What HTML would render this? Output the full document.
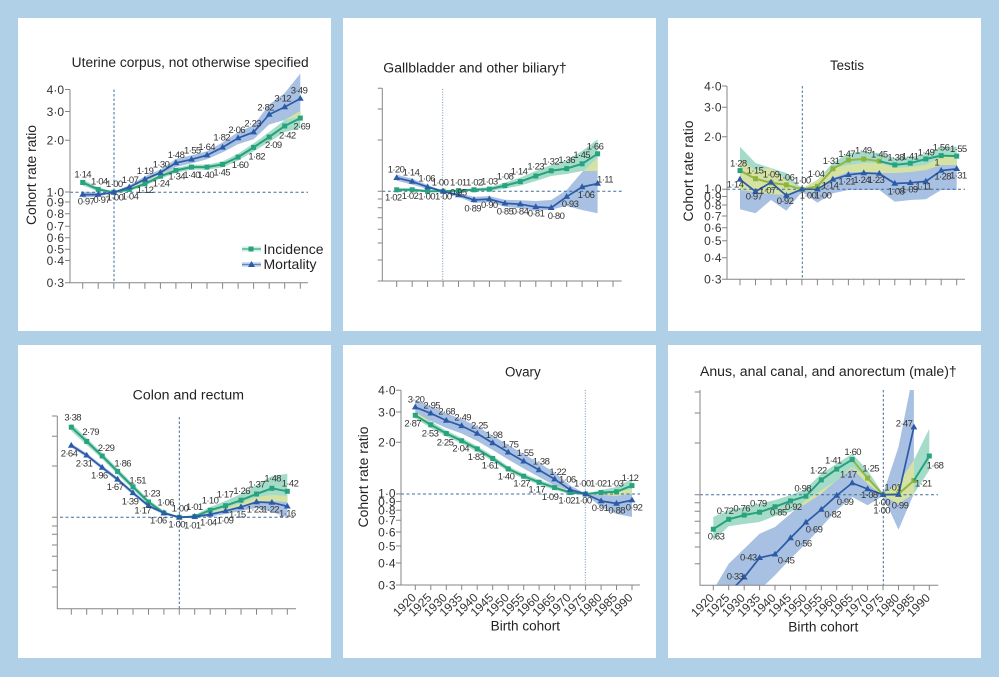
<!DOCTYPE html>
<html><head><meta charset="utf-8">
<style>
html,body{margin:0;padding:0;background:#b0d0e7;}
svg{display:block;}
text{font-family:"Liberation Sans",sans-serif;}
.ax{stroke:#858585;stroke-width:1;fill:none;}
.hd{stroke:#3f6f9c;stroke-width:1;stroke-dasharray:3 2.5;fill:none;}
.vd{stroke:#3f6f9c;stroke-width:1;stroke-dasharray:2.5 2;fill:none;}
.vt{stroke:#6d92b8;stroke-width:1;stroke-dasharray:1 1.6;fill:none;}
.bi{fill:#a5dcc9;}
.bm{fill:#a8c0e1;}
.by{fill:#d5e2a3;}
.inc{stroke:#26a17c;stroke-width:2;fill:none;stroke-linejoin:round;marker-start:url(#ms);marker-mid:url(#ms);marker-end:url(#ms);}
.mor{stroke:#2b5aa8;stroke-width:1.7;fill:none;stroke-linejoin:round;marker-start:url(#mt);marker-mid:url(#mt);marker-end:url(#mt);}
.olv{stroke:#93b641;stroke-width:2;fill:none;stroke-linejoin:round;marker-mid:url(#mo);marker-end:url(#mo);}
.dl{font-size:9.5px;fill:#333;letter-spacing:-0.6px;text-anchor:middle;}
.yl{font-size:12px;fill:#333;text-anchor:end;}
.ti{font-size:13.5px;fill:#222;}
.xl{font-size:12px;fill:#333;text-anchor:end;}
</style></head>
<body>
<svg width="999" height="677" viewBox="0 0 999 677" xmlns="http://www.w3.org/2000/svg">
<defs>
<marker id="ms" markerWidth="7" markerHeight="7" refX="3" refY="3" markerUnits="userSpaceOnUse"><rect x="0.5" y="0.5" width="5" height="5" fill="#27a37e"/></marker>
<marker id="mo" markerWidth="7" markerHeight="7" refX="3" refY="3" markerUnits="userSpaceOnUse"><rect x="0.5" y="0.5" width="5" height="5" fill="#8db53e"/></marker>
<marker id="mt" markerWidth="8" markerHeight="8" refX="4" refY="4.4" markerUnits="userSpaceOnUse"><path d="M4 0.8 L7.4 6.6 L0.6 6.6Z" fill="#2b5aa8"/></marker>
<clipPath id="c1"><polygon points="82.7,191.6 98.2,192.6 113.8,191.8 129.3,185.2 144.9,176.3 160.4,169.6 175.9,158.9 191.5,155.4 207.0,151.2 222.6,142.4 238.1,132.1 253.6,125.2 269.2,104.5 284.7,93 300.3,73.6 300.3,116.6 284.7,120 269.2,124.5 253.6,139.2 238.1,144.1 222.6,152.4 207.0,159.2 191.5,163.4 175.9,166.9 160.4,175.6 144.9,182.3 129.3,189.2 113.8,192.8 98.2,196.6 82.7,197.6"/></clipPath>
<clipPath id="c2"><polygon points="396.7,174.8 412.2,178.6 427.6,185 443.1,190.8 458.5,193.1 474.0,196.9 489.4,196.1 504.9,199.8 520.3,200.2 535.8,201 551.2,200 566.7,190 582.1,172 597.6,158 597.6,213.3 582.1,210 566.7,206 551.2,209.5 535.8,210.9 520.3,208.2 504.9,206.8 489.4,202.1 474.0,202.9 458.5,197.1 443.1,191.8 427.6,189 412.2,184.6 396.7,180.8"/></clipPath>
<clipPath id="c3"><polygon points="740,160 755.5,170 771.0,168 786.4,180 801.9,188.7 817.4,180 832.9,168 848.4,165 863.8,163 879.3,163 894.8,168 910.3,167 925.8,165 941.2,157 956.7,155 956.7,190 941.2,190 925.8,199.3 910.3,200 894.8,201.7 879.3,190 863.8,190 848.4,190 832.9,193.3 817.4,202.7 801.9,191.7 786.4,210.7 771.0,200 755.5,213.3 740,209.3"/></clipPath>
<clipPath id="c4"><polygon points="71.3,443.5 86.7,453.3 102.2,465.5 117.6,477.4 133.0,491 148.5,504 163.9,511.5 179.3,517 194.7,515.6 210.2,512.5 225.6,508 241.0,503 256.5,497 271.9,495 287.3,496 287.3,517 271.9,512 256.5,508 241.0,511 225.6,514 210.2,516.5 194.7,517.6 179.3,517.6 163.9,514.5 148.5,507.5 133.0,495 117.6,481.4 102.2,469.5 86.7,457.3 71.3,447.5"/></clipPath>
<clipPath id="c5"><polygon points="415.3,400 430.8,406 446.3,413.5 461.7,419 477.2,426.5 492.7,435.5 508.2,445 523.7,454 539.1,463 554.6,472.5 570.1,485.5 585.6,493.5 601.1,494.5 616.5,492 632.0,488.7 632.0,517 616.5,514 601.1,507 585.6,494.5 570.1,493 554.6,485.5 539.1,477 523.7,468.5 508.2,459.5 492.7,450 477.2,441 461.7,433.5 446.3,428 430.8,421 415.3,418"/></clipPath>
<clipPath id="c6"><polygon points="713.3,590 728.7,563.7 744.2,548.7 759.6,533.7 775.0,527 790.5,513.7 805.9,500.3 821.3,490.3 836.7,480.3 852.2,467 867.6,477 883.0,494 898.5,447 913.9,370 913.9,493.7 898.5,529.7 883.0,496 867.6,505.3 852.2,497 836.7,510.3 821.3,527 805.9,543.7 790.5,558.7 775.0,575.3 759.6,590 744.2,610 728.7,620 713.3,630"/></clipPath>
<clipPath id="p6"><rect x="700" y="390" width="238.3" height="195.3"/></clipPath>
</defs>

<rect width="999" height="677" fill="#b0d0e7"/>
<rect x="18" y="18" width="313" height="313" fill="#fff"/>
<rect x="343" y="18" width="313" height="313" fill="#fff"/>
<rect x="668" y="18" width="313" height="313" fill="#fff"/>
<rect x="18" y="345" width="313" height="313" fill="#fff"/>
<rect x="343" y="345" width="313" height="313" fill="#fff"/>
<rect x="668" y="345" width="313" height="313" fill="#fff"/>

<!-- ================= PANEL 1 ================= -->
<g>
<text class="ti" x="71.7" y="67" textLength="237" lengthAdjust="spacingAndGlyphs">Uterine corpus, not otherwise specified</text>
<text class="ti" text-anchor="middle" transform="translate(36,175) rotate(-90)" textLength="100" lengthAdjust="spacingAndGlyphs">Cohort rate ratio</text>
<polygon class="bm" points="82.7,191.6 98.2,192.6 113.8,191.8 129.3,185.2 144.9,176.3 160.4,169.6 175.9,158.9 191.5,155.4 207.0,151.2 222.6,142.4 238.1,132.1 253.6,125.2 269.2,104.5 284.7,93 300.3,73.6 300.3,116.6 284.7,120 269.2,124.5 253.6,139.2 238.1,144.1 222.6,152.4 207.0,159.2 191.5,163.4 175.9,166.9 160.4,175.6 144.9,182.3 129.3,189.2 113.8,192.8 98.2,196.6 82.7,197.6"/>
<polygon class="bi" points="82.7,179.5 98.2,187.4 113.8,191.8 129.3,187.4 144.9,181.8 160.4,173.7 175.9,167.9 191.5,164.6 207.0,164.6 222.6,161.4 238.1,153.6 253.6,143.4 269.2,132 284.7,120 300.3,111 300.3,128 284.7,132 269.2,142 253.6,151.4 238.1,160.6 222.6,167.4 207.0,169.6 191.5,169.6 175.9,172.9 160.4,178.7 144.9,185.8 129.3,191.4 113.8,192.8 98.2,191.4 82.7,185.5"/>
<polygon class="by" clip-path="url(#c1)" points="82.7,179.5 98.2,187.4 113.8,191.8 129.3,187.4 144.9,181.8 160.4,173.7 175.9,167.9 191.5,164.6 207.0,164.6 222.6,161.4 238.1,153.6 253.6,143.4 269.2,132 284.7,120 300.3,111 300.3,128 284.7,132 269.2,142 253.6,151.4 238.1,160.6 222.6,167.4 207.0,169.6 191.5,169.6 175.9,172.9 160.4,178.7 144.9,185.8 129.3,191.4 113.8,192.8 98.2,191.4 82.7,185.5"/>
<path class="vd" d="M114 89.5V282.7"/>
<path class="hd" d="M70 192.3H308"/>
<path class="ax" d="M70 89.5V282.7H308"/>
<path class="ax" d="M65 89.5h5M65 111.5h5M65 140.3h5M65 192h5M65 202h5M65 213.8h5M65 226.3h5M65 237.8h5M65 249.3h5M65 260.5h5M65 282.7h5"/>
<path class="ax" d="M82.7 282.7v6M98.2 282.7v6M113.8 282.7v6M129.3 282.7v6M144.9 282.7v6M160.4 282.7v6M175.9 282.7v6M191.5 282.7v6M207 282.7v6M222.6 282.7v6M238.1 282.7v6M253.6 282.7v6M269.2 282.7v6M284.7 282.7v6M300.3 282.7v6"/>
<g class="yl">
<text x="64" y="93.8">4·0</text><text x="64" y="115.8">3·0</text><text x="64" y="144.6">2·0</text><text x="64" y="196.3">1·0</text><text x="64" y="206.3">0·9</text><text x="64" y="218.1">0·8</text><text x="64" y="230.6">0·7</text><text x="64" y="242.1">0·6</text><text x="64" y="253.6">0·5</text><text x="64" y="264.8">0·4</text><text x="64" y="287">0·3</text>
</g>
<polyline class="inc" points="82.7,182.5 98.2,189.4 113.8,192.3 129.3,189.4 144.9,183.8 160.4,176.2 175.9,170.4 191.5,167.1 207.0,167.1 222.6,164.4 238.1,157.1 253.6,147.4 269.2,137.0 284.7,126.0 300.3,118.1"/>
<polyline class="mor" points="82.7,194.6 98.2,194.6 113.8,192.3 129.3,187.2 144.9,179.3 160.4,172.6 175.9,162.9 191.5,159.4 207.0,155.2 222.6,147.4 238.1,138.1 253.6,132.2 269.2,114.5 284.7,107.0 300.3,98.6"/>
<g class="dl">
<text x="82.7" y="177.3">1·14</text><text x="99.3" y="184.7">1·04</text><text x="114.3" y="187">1·00</text><text x="130" y="183">1·07</text><text x="145" y="174">1·19</text><text x="161" y="167.3">1·30</text><text x="176" y="158">1·48</text><text x="192.3" y="153.7">1·55</text><text x="206.7" y="150">1·64</text><text x="221.7" y="140.3">1·82</text><text x="236.7" y="133">2·06</text><text x="252.7" y="126.3">2·23</text><text x="265.7" y="110.3">2·82</text><text x="282.7" y="101.7">3·12</text><text x="299" y="93.7">3·49</text>
<text x="86" y="204.7">0·97</text><text x="101.7" y="203">0·97</text><text x="115" y="200.3">1·00</text><text x="130" y="199.7">1·04</text><text x="145" y="193">1·12</text><text x="161" y="186.3">1·24</text><text x="176.7" y="179.7">1·34</text><text x="191.7" y="178">1·40</text><text x="205.7" y="178">1·40</text><text x="221.7" y="175.7">1·45</text><text x="240" y="168">1·60</text><text x="256.7" y="159.3">1·82</text><text x="273.3" y="148">2·09</text><text x="287.3" y="138.7">2·42</text><text x="301.7" y="129.7">2·69</text>
</g>
<!-- legend -->
<rect x="242" y="246.5" width="19" height="5" fill="#d2efe5"/>
<rect x="242" y="262" width="19" height="5" fill="#d2def0"/>
<path d="M242 249H261" stroke="#4fb595" stroke-width="1.6"/>
<rect x="248.5" y="246.5" width="5" height="5" fill="#27a37e"/>
<path d="M242 264.5H261" stroke="#5f86c0" stroke-width="1.6"/>
<path d="M251.5 261 L255 267 L248 267Z" fill="#2b5aa8"/>
<text x="263.5" y="254" font-size="14" fill="#222" textLength="60" lengthAdjust="spacingAndGlyphs">Incidence</text>
<text x="263.5" y="269" font-size="14" fill="#222" textLength="53" lengthAdjust="spacingAndGlyphs">Mortality</text>
</g>

<!-- ================= PANEL 2 ================= -->
<g>
<text class="ti" x="383.3" y="72.5" textLength="183.4" lengthAdjust="spacingAndGlyphs">Gallbladder and other biliary†</text>
<polygon class="bm" points="396.7,174.8 412.2,178.6 427.6,185 443.1,190.8 458.5,193.1 474.0,196.9 489.4,196.1 504.9,199.8 520.3,200.2 535.8,201 551.2,200 566.7,190 582.1,172 597.6,158 597.6,213.3 582.1,210 566.7,206 551.2,209.5 535.8,210.9 520.3,208.2 504.9,206.8 489.4,202.1 474.0,202.9 458.5,197.1 443.1,191.8 427.6,189 412.2,184.6 396.7,180.8"/>
<polygon class="bi" points="396.7,188.3 412.2,188.3 427.6,190.3 443.1,191 458.5,189.6 474.0,188.3 489.4,187.1 504.9,182.6 520.3,177.6 535.8,171 551.2,165 566.7,160 582.1,151 597.6,139.3 597.6,171 582.1,171 566.7,174 551.2,176 535.8,181 520.3,185.6 504.9,188.6 489.4,191.1 474.0,191.3 458.5,191.6 443.1,191.6 427.6,192.3 412.2,191.3 396.7,191.3"/>
<polygon class="by" clip-path="url(#c2)" points="396.7,188.3 412.2,188.3 427.6,190.3 443.1,191 458.5,189.6 474.0,188.3 489.4,187.1 504.9,182.6 520.3,177.6 535.8,171 551.2,165 566.7,160 582.1,151 597.6,139.3 597.6,171 582.1,171 566.7,174 551.2,176 535.8,181 520.3,185.6 504.9,188.6 489.4,191.1 474.0,191.3 458.5,191.6 443.1,191.6 427.6,192.3 412.2,191.3 396.7,191.3"/>
<path class="vt" d="M442.7 89V281"/>
<path class="hd" d="M382.3 191.3H621.7"/>
<path class="ax" d="M382.3 88.3V281H621.7"/>
<path class="ax" d="M377.7 88.3h4.6M377.7 109h4.6M377.7 140h4.6M377.7 191.3h4.6M377.7 199h4.6M377.7 207.7h4.6M377.7 217.7h4.6M377.7 229.3h4.6M377.7 243h4.6M377.7 260h4.6M377.7 281h4.6"/>
<path class="ax" d="M396.7 281v6M412.2 281v6M427.6 281v6M443.1 281v6M458.5 281v6M474 281v6M489.4 281v6M504.9 281v6M520.3 281v6M535.8 281v6M551.2 281v6M566.7 281v6M582.1 281v6M597.6 281v6M613 281v6"/>
<polyline class="inc" points="396.7,189.8 412.2,189.8 427.6,191.3 443.1,191.3 458.5,190.6 474.0,189.8 489.4,189.1 504.9,185.6 520.3,181.6 535.8,176.0 551.2,170.8 566.7,168.6 582.1,163.8 597.6,153.8"/>
<polyline class="mor" points="396.7,177.8 412.2,181.6 427.6,187.0 443.1,191.3 458.5,195.1 474.0,199.9 489.4,199.1 504.9,203.3 520.3,204.2 535.8,206.9 551.2,207.8 566.7,196.7 582.1,187.0 597.6,183.6"/>
<g class="dl">
<text x="396" y="172.3">1·20</text><text x="411" y="175.3">1·14</text><text x="426.7" y="181.3">1·06</text><text x="440" y="185.7">1·00</text><text x="458.3" y="185.7">1·01</text><text x="474.3" y="185.7">1·02</text><text x="489.3" y="184.7">1·03</text><text x="505" y="179.7">1·08</text><text x="519" y="174.7">1·14</text><text x="535.7" y="169.7">1·23</text><text x="550.7" y="164.7">1·32</text><text x="566.7" y="163">1·36</text><text x="581.7" y="158">1·45</text><text x="595" y="149.7">1·66</text><text x="605" y="182.3">1·11</text>
<text x="393.3" y="200.3">1·02</text><text x="410" y="199">1·02</text><text x="426.7" y="199.7">1·00</text><text x="443.3" y="199.7">1·00</text><text x="458.3" y="195.7">0·95</text><text x="472.7" y="211.3">0·89</text><text x="489.3" y="208">0·90</text><text x="505" y="214.7">0·85</text><text x="520" y="214.7">0·84</text><text x="536" y="216.3">0·81</text><text x="556" y="219">0·80</text><text x="570" y="207">0·93</text><text x="586" y="198">1·06</text>
</g>
</g>

<!-- ================= PANEL 3 ================= -->
<g>
<text class="ti" x="830" y="70" textLength="34" lengthAdjust="spacingAndGlyphs">Testis</text>
<text class="ti" text-anchor="middle" transform="translate(693,171) rotate(-90)" textLength="101" lengthAdjust="spacingAndGlyphs">Cohort rate ratio</text>
<polygon class="bm" points="740,160 755.5,170 771.0,168 786.4,180 801.9,188.7 817.4,180 832.9,168 848.4,165 863.8,163 879.3,163 894.8,168 910.3,167 925.8,165 941.2,157 956.7,155 956.7,190 941.2,190 925.8,199.3 910.3,200 894.8,201.7 879.3,190 863.8,190 848.4,190 832.9,193.3 817.4,202.7 801.9,191.7 786.4,210.7 771.0,200 755.5,213.3 740,209.3"/>
<polygon class="bi" points="740,146.7 755.5,163 771.0,168 786.4,173 801.9,188.7 817.4,180 832.9,163 848.4,153 863.8,151.7 879.3,153 894.8,158 910.3,156.7 925.8,154 941.2,146.7 956.7,146.7 956.7,165 941.2,165 925.8,170 910.3,172 894.8,173 879.3,173 863.8,172 848.4,172 832.9,178 817.4,192 801.9,190 786.4,195 771.0,194 755.5,192 740,190"/>
<polygon class="by" clip-path="url(#c3)" points="740,146.7 755.5,163 771.0,168 786.4,173 801.9,188.7 817.4,180 832.9,163 848.4,153 863.8,151.7 879.3,153 894.8,158 910.3,156.7 925.8,154 941.2,146.7 956.7,146.7 956.7,165 941.2,165 925.8,170 910.3,172 894.8,173 879.3,173 863.8,172 848.4,172 832.9,178 817.4,192 801.9,190 786.4,195 771.0,194 755.5,192 740,190"/>
<path class="vd" d="M802.3 86V279.3" style="stroke:#3d7696"/>
<path class="hd" d="M727 189.3H965"/>
<path class="ax" d="M727 86V279.3H965"/>
<path class="ax" d="M722 86h5M722 107.3h5M722 136.7h5M722 189.3h5M722 196.5h5M722 205h5M722 216h5M722 227.7h5M722 240.7h5M722 257.7h5M722 279.3h5"/>
<path class="ax" d="M740 279.3v6M755.5 279.3v6M771 279.3v6M786.4 279.3v6M801.9 279.3v6M817.4 279.3v6M832.9 279.3v6M848.4 279.3v6M863.8 279.3v6M879.3 279.3v6M894.8 279.3v6M910.3 279.3v6M925.8 279.3v6M941.2 279.3v6M956.7 279.3v6"/>
<g class="yl">
<text x="721.5" y="90.3">4·0</text><text x="721.5" y="111.6">3·0</text><text x="721.5" y="141">2·0</text><text x="721.5" y="193">1·0</text><text x="721.5" y="201.1">0·9</text><text x="721.5" y="209.3">0·8</text><text x="721.5" y="220.3">0·7</text><text x="721.5" y="232">0·6</text><text x="721.5" y="245">0·5</text><text x="721.5" y="262">0·4</text><text x="721.5" y="283.6">0·3</text>
</g>
<polyline class="olv" points="740,170.6 755.5,178.7 771.0,182.8 786.4,184.9 801.9,189.3 817.4,186.3 832.9,168.8 848.4,160.1 863.8,159.0 879.3,161.1"/>
<polyline class="inc" style="marker-start:none" points="879.3,161.1 894.8,164.9 910.3,163.2 925.8,159.0 941.2,155.6 956.7,156.1"/>
<rect x="737.5" y="168.1" width="5" height="5" fill="#27a37e"/>
<polyline class="mor" points="740,179.4 755.5,191.6 771.0,182.3 786.4,195.6 801.9,189.3 817.4,189.3 832.9,179.4 848.4,174.8 863.8,173.0 879.3,173.6 894.8,183.5 910.3,182.8 925.8,181.4 941.2,170.6 956.7,168.8"/>
<g class="dl">
<text x="738.3" y="166.3">1·28</text><text x="755" y="173.7">1·15</text><text x="771" y="177.7">1·09</text><text x="786" y="180.3">1·06</text><text x="802.3" y="183.7">1·00</text><text x="816" y="177">1·04</text><text x="831" y="164">1·31</text><text x="846.7" y="157">1·47</text><text x="863.3" y="153.7">1·49</text><text x="879.3" y="157.3">1·45</text><text x="895.7" y="160.3">1·38</text><text x="910" y="159.7">1·41</text><text x="926" y="155.3">1·49</text><text x="941" y="150.3">1·56</text><text x="958.3" y="152">1·55</text><text x="936.7" y="165.3">1</text>
<text x="735" y="187.3">1·14</text><text x="754" y="199.7">0·97</text><text x="767.3" y="193.7">1·07</text><text x="785" y="204">0·92</text><text x="808" y="198.5">1·00</text><text x="823" y="198.5">1·00</text><text x="830" y="188.7">1·14</text><text x="846.7" y="184.7">1·21</text><text x="861.7" y="183">1·24</text><text x="876" y="183">1·23</text><text x="896" y="194.7">1·08</text><text x="909.3" y="192.3">1·09</text><text x="923.3" y="189.7">1·11</text><text x="942.7" y="179.7">1·28</text><text x="958.3" y="178.7">1·31</text>
</g>
</g>

<!-- ================= PANEL 4 ================= -->
<g>
<text class="ti" x="132.7" y="399.7" textLength="111.3" lengthAdjust="spacingAndGlyphs">Colon and rectum</text>
<polygon class="bm" points="71.3,443.5 86.7,453.3 102.2,465.5 117.6,477.4 133.0,491 148.5,504 163.9,511.5 179.3,517 194.7,515.6 210.2,512.5 225.6,508 241.0,503 256.5,497 271.9,495 287.3,496 287.3,517 271.9,512 256.5,508 241.0,511 225.6,514 210.2,516.5 194.7,517.6 179.3,517.6 163.9,514.5 148.5,507.5 133.0,495 117.6,481.4 102.2,469.5 86.7,457.3 71.3,447.5"/>
<polygon class="bi" points="71.3,423.5 86.7,438 102.2,453 117.6,468.5 133.0,484 148.5,499.5 163.9,511 179.3,517 194.7,515 210.2,507 225.6,501 241.0,494 256.5,485 271.9,476 287.3,473.7 287.3,502 271.9,501 256.5,503 241.0,506 225.6,510 210.2,513 194.7,518 179.3,517.6 163.9,515 148.5,504.5 133.0,489.5 117.6,474.5 102.2,459 86.7,445 71.3,431"/>
<polygon class="by" clip-path="url(#c4)" points="71.3,423.5 86.7,438 102.2,453 117.6,468.5 133.0,484 148.5,499.5 163.9,511 179.3,517 194.7,515 210.2,507 225.6,501 241.0,494 256.5,485 271.9,476 287.3,473.7 287.3,502 271.9,501 256.5,503 241.0,506 225.6,510 210.2,513 194.7,518 179.3,517.6 163.9,515 148.5,504.5 133.0,489.5 117.6,474.5 102.2,459 86.7,445 71.3,431"/>
<path class="vd" d="M179.3 417V608.7"/>
<path class="hd" d="M60 517.3H296"/>
<path class="ax" d="M57.3 416V608.7H296"/>
<path class="ax" d="M52 416h5.3M52 436.3h5.3M52 466h5.3M52 517.3h5.3M52 526h5.3M52 534.3h5.3M52 545h5.3M52 556.3h5.3M52 570.3h5.3M52 587h5.3"/>
<path class="ax" d="M71.3 608.7v6M86.7 608.7v6M102.2 608.7v6M117.6 608.7v6M133 608.7v6M148.5 608.7v6M163.9 608.7v6M179.3 608.7v6M194.7 608.7v6M210.2 608.7v6M225.6 608.7v6M241 608.7v6M256.5 608.7v6M271.9 608.7v6M287.3 608.7v6"/>
<polyline class="inc" points="71.3,427.2 86.7,441.4 102.2,456.0 117.6,471.4 133.0,486.8 148.5,502.0 163.9,513.0 179.3,517.3 194.7,516.6 210.2,510.2 225.6,505.7 241.0,500.2 256.5,494.0 271.9,488.3 287.3,491.3"/>
<polyline class="mor" points="71.3,445.5 86.7,455.3 102.2,467.5 117.6,479.4 133.0,492.9 148.5,505.7 163.9,513.0 179.3,517.3 194.7,516.6 210.2,514.4 225.6,510.9 241.0,507.0 256.5,502.0 271.9,502.6 287.3,506.3"/>
<g class="dl">
<text x="72.7" y="420.7">3·38</text><text x="90.7" y="435">2·79</text><text x="106" y="451">2·29</text><text x="122.7" y="466.7">1·86</text><text x="137.7" y="483.3">1·51</text><text x="151.7" y="496.7">1·23</text><text x="165.7" y="505.7">1·06</text><text x="180" y="511.7">1·00</text><text x="194.3" y="510">1·01</text><text x="210" y="503.3">1·10</text><text x="225" y="497.7">1·17</text><text x="241.7" y="494">1·26</text><text x="256.7" y="487.3">1·37</text><text x="272.7" y="481.7">1·48</text><text x="290" y="486.7">1·42</text>
<text x="69" y="456.7">2·64</text><text x="84" y="466.7">2·31</text><text x="99.3" y="478.3">1·96</text><text x="115" y="490">1·67</text><text x="130" y="504.3">1·39</text><text x="142.7" y="513.7">1·17</text><text x="158.3" y="523.7">1·06</text><text x="176.7" y="527.7">1·00</text><text x="192.3" y="528.3">1·01</text><text x="208.3" y="525.7">1·04</text><text x="225" y="523.3">1·09</text><text x="237.3" y="517.3">1·15</text><text x="255" y="512.7">1·23</text><text x="270.7" y="512.7">1·22</text><text x="287.3" y="516.7">1·16</text>
</g>
</g>

<!-- ================= PANEL 5 ================= -->
<g>
<text class="ti" x="505" y="376.3" textLength="35.7" lengthAdjust="spacingAndGlyphs">Ovary</text>
<text class="ti" text-anchor="middle" transform="translate(368,477) rotate(-90)" textLength="101" lengthAdjust="spacingAndGlyphs">Cohort rate ratio</text>
<polygon class="bm" points="415.3,400 430.8,406 446.3,413.5 461.7,419 477.2,426.5 492.7,435.5 508.2,445 523.7,454 539.1,463 554.6,472.5 570.1,485.5 585.6,493.5 601.1,494.5 616.5,492 632.0,488.7 632.0,517 616.5,514 601.1,507 585.6,494.5 570.1,493 554.6,485.5 539.1,477 523.7,468.5 508.2,459.5 492.7,450 477.2,441 461.7,433.5 446.3,428 430.8,421 415.3,418"/>
<polygon class="bi" points="415.3,412 430.8,421.5 446.3,430.5 461.7,438 477.2,446 492.7,455.7 508.2,466.2 523.7,473.6 539.1,479.8 554.6,485.3 570.1,490.8 585.6,493.6 601.1,490 616.5,487 632.0,478.7 632.0,493.7 616.5,496 601.1,495 585.6,494.4 570.1,494.2 554.6,489.9 539.1,484.8 523.7,478.8 508.2,471.6 492.7,461.3 477.2,451.8 461.7,443.6 446.3,436.5 430.8,428 415.3,418.5"/>
<polygon class="by" clip-path="url(#c5)" points="415.3,412 430.8,421.5 446.3,430.5 461.7,438 477.2,446 492.7,455.7 508.2,466.2 523.7,473.6 539.1,479.8 554.6,485.3 570.1,490.8 585.6,493.6 601.1,490 616.5,487 632.0,478.7 632.0,493.7 616.5,496 601.1,495 585.6,494.4 570.1,494.2 554.6,489.9 539.1,484.8 523.7,478.8 508.2,471.6 492.7,461.3 477.2,451.8 461.7,443.6 446.3,436.5 430.8,428 415.3,418.5"/>
<path class="vt" d="M585.3 390V585"/>
<path class="hd" d="M401 494H640"/>
<path class="ax" d="M401 390.3V585H640"/>
<path class="ax" d="M396 390.3h5M396 412h5M396 442.3h5M396 494h5M396 501.5h5M396 510.3h5M396 520.3h5M396 532h5M396 546h5M396 563h5M396 585h5"/>
<path class="ax" d="M415.3 585v5M430.8 585v5M446.3 585v5M461.7 585v5M477.2 585v5M492.7 585v5M508.2 585v5M523.7 585v5M539.1 585v5M554.6 585v5M570.1 585v5M585.6 585v5M601.1 585v5M616.5 585v5M632 585v5"/>
<g class="yl">
<text x="395.5" y="394.6">4·0</text><text x="395.5" y="416.3">3·0</text><text x="395.5" y="446.6">2·0</text><text x="395.5" y="497.3">1·0</text><text x="395.5" y="505.8">0·9</text><text x="395.5" y="514.6">0·8</text><text x="395.5" y="524.6">0·7</text><text x="395.5" y="536.3">0·6</text><text x="395.5" y="550.3">0·5</text><text x="395.5" y="567.3">0·4</text><text x="395.5" y="589.3">0·3</text>
</g>
<polyline class="inc" points="415.3,415.3 430.8,424.8 446.3,433.5 461.7,440.8 477.2,448.9 492.7,458.5 508.2,468.9 523.7,476.2 539.1,482.3 554.6,487.6 570.1,492.5 585.6,494 601.1,492.5 616.5,491.8 632.0,485.6"/>
<polyline class="mor" points="415.3,407.2 430.8,413.3 446.3,420.5 461.7,425.9 477.2,433.5 492.7,443.0 508.2,452.3 523.7,461.3 539.1,470.0 554.6,479.2 570.1,489.7 585.6,494 601.1,501.0 616.5,503.5 632.0,500.2"/>
<g class="dl">
<text x="416" y="402.3">3·20</text><text x="431.7" y="408.3">2·95</text><text x="446.7" y="414.7">2·68</text><text x="462.7" y="420.7">2·49</text><text x="479.3" y="428.3">2·25</text><text x="494" y="438">1·98</text><text x="510" y="447.3">1·75</text><text x="525" y="456">1·55</text><text x="541" y="464.3">1·38</text><text x="557.7" y="475">1·22</text><text x="567.3" y="482.3">1·06</text><text x="582.3" y="486.7">1·00</text><text x="598.3" y="486.7">1·02</text><text x="615" y="486.7">1·03</text><text x="630" y="481">1·12</text>
<text x="412.7" y="426.7">2·87</text><text x="430" y="436.7">2·53</text><text x="445" y="445.3">2·25</text><text x="460.7" y="451.7">2·04</text><text x="476" y="460">1·83</text><text x="490" y="468.3">1·61</text><text x="506" y="479.3">1·40</text><text x="521.7" y="486.7">1·27</text><text x="536.7" y="492.3">1·17</text><text x="550" y="500">1·09</text><text x="566.7" y="503.3">1·02</text><text x="583.3" y="503.3">1·00</text><text x="600" y="511">0·91</text><text x="616.7" y="513.3">0·88</text><text x="634" y="510.7">0·92</text>
</g>
<g class="xl">
<text transform="translate(416.8,598.3) rotate(-45)">1920</text><text transform="translate(432.3,598.3) rotate(-45)">1925</text><text transform="translate(447.8,598.3) rotate(-45)">1930</text><text transform="translate(463.2,598.3) rotate(-45)">1935</text><text transform="translate(478.7,598.3) rotate(-45)">1940</text><text transform="translate(494.2,598.3) rotate(-45)">1945</text><text transform="translate(509.7,598.3) rotate(-45)">1950</text><text transform="translate(525.2,598.3) rotate(-45)">1955</text><text transform="translate(540.6,598.3) rotate(-45)">1960</text><text transform="translate(556.1,598.3) rotate(-45)">1965</text><text transform="translate(571.6,598.3) rotate(-45)">1970</text><text transform="translate(587.1,598.3) rotate(-45)">1975</text><text transform="translate(602.6,598.3) rotate(-45)">1980</text><text transform="translate(618,598.3) rotate(-45)">1985</text><text transform="translate(633.5,598.3) rotate(-45)">1990</text>
</g>
<text class="ti" x="490.7" y="630.3" textLength="69.3" lengthAdjust="spacingAndGlyphs">Birth cohort</text>
</g>

<!-- ================= PANEL 6 ================= -->
<g>
<text class="ti" x="700" y="376" textLength="256.7" lengthAdjust="spacingAndGlyphs">Anus, anal canal, and anorectum (male)†</text>
<g clip-path="url(#p6)">
<polygon class="bm" points="713.3,590 728.7,563.7 744.2,548.7 759.6,533.7 775.0,527 790.5,513.7 805.9,500.3 821.3,490.3 836.7,480.3 852.2,467 867.6,477 883.0,494 898.5,447 913.9,370 913.9,493.7 898.5,529.7 883.0,496 867.6,505.3 852.2,497 836.7,510.3 821.3,527 805.9,543.7 790.5,558.7 775.0,575.3 759.6,590 744.2,610 728.7,620 713.3,630"/>
<polygon class="bi" points="713.3,517 728.7,510.3 744.2,507 759.6,503.7 775.0,500 790.5,495.3 805.9,488.7 821.3,473.7 836.7,463.7 852.2,453.7 867.6,470.3 883.0,493.7 898.5,483.7 913.9,460 929.3,428.7 929.3,470.3 913.9,493.7 898.5,503.7 883.0,495.7 867.6,483.7 852.2,468.7 836.7,480.3 821.3,493.7 805.9,503.7 790.5,512 775.0,516 759.6,522 744.2,524 728.7,526.3 713.3,541"/>
<polygon class="by" clip-path="url(#c6)" points="713.3,517 728.7,510.3 744.2,507 759.6,503.7 775.0,500 790.5,495.3 805.9,488.7 821.3,473.7 836.7,463.7 852.2,453.7 867.6,470.3 883.0,493.7 898.5,483.7 913.9,460 929.3,428.7 929.3,470.3 913.9,493.7 898.5,503.7 883.0,495.7 867.6,483.7 852.2,468.7 836.7,480.3 821.3,493.7 805.9,503.7 790.5,512 775.0,516 759.6,522 744.2,524 728.7,526.3 713.3,541"/>
</g>
<path class="vd" d="M883.3 390V585.3"/>
<path class="hd" d="M700 494.7H938"/>
<path class="ax" d="M700 390V585.3H938.3"/>
<path class="ax" d="M694.7 392h5.3M694.7 413h5.3M694.7 443h5.3M694.7 494.7h5.3M694.7 502.7h5.3M694.7 511.3h5.3M694.7 521.3h5.3M694.7 533h5.3M694.7 547h5.3M694.7 563.7h5.3"/>
<path class="ax" d="M713.3 585.3v5M728.7 585.3v5M744.2 585.3v5M759.6 585.3v5M775 585.3v5M790.5 585.3v5M805.9 585.3v5M821.3 585.3v5M836.7 585.3v5M852.2 585.3v5M867.6 585.3v5M883 585.3v5M898.5 585.3v5M913.9 585.3v5M929.3 585.3v5"/>
<g clip-path="url(#p6)">
<polyline class="inc" style="marker-end:none" points="713.3,529.2 728.7,519.3 744.2,515.1 759.6,512.2 775.0,506.8 790.5,500.9 805.9,496.2 821.3,479.9 836.7,469.1 852.2,459.6"/>
<polyline class="olv" points="852.2,459.6 867.6,478.1 883.0,494.7 898.5,494.0 913.9,480.5"/>
<polyline class="inc" style="marker-start:none" points="913.9,480.5 929.3,456.0"/>
<rect x="849.7" y="457.1" width="5" height="5" fill="#27a37e"/>
<polyline class="mor" points="713.3,598.1 728.7,592.5 744.2,577.3 759.6,557.8 775.0,554.3 790.5,538.0 805.9,522.4 821.3,509.5 836.7,495.5 852.2,483.0 867.6,489.0 883.0,494.7 898.5,494.7 913.9,427.2"/>
</g>
<g class="dl">
<text x="716" y="539.3">0·63</text><text x="725" y="514">0·72</text><text x="741.7" y="511.7">0·76</text><text x="758.3" y="506.7">0·79</text><text x="778.3" y="515.7">0·85</text><text x="793.3" y="510">0·92</text><text x="802.7" y="491.7">0·98</text><text x="818.3" y="473.3">1·22</text><text x="833.3" y="463.3">1·41</text><text x="852.7" y="455">1·60</text><text x="870.7" y="471.7">1·25</text><text x="892.7" y="490.7">1·01</text><text x="923.3" y="486.7">1·21</text><text x="935" y="468.3">1·68</text>
<text x="735" y="579.3">0·33</text><text x="748.3" y="560.7">0·43</text><text x="786" y="563.3">0·45</text><text x="803.3" y="546.7">0·56</text><text x="814" y="532.7">0·69</text><text x="832.7" y="517.7">0·82</text><text x="845" y="505">0·99</text><text x="848.3" y="477.3">1·17</text><text x="869.3" y="498">1·08</text><text x="881.7" y="505.7">1·00</text><text x="881.7" y="513.3">1·00</text><text x="900" y="508.3">0·99</text><text x="904" y="426.7">2·47</text>
</g>
<g class="xl">
<text transform="translate(714.8,598.6) rotate(-45)">1920</text><text transform="translate(730.2,598.6) rotate(-45)">1925</text><text transform="translate(745.7,598.6) rotate(-45)">1930</text><text transform="translate(761.1,598.6) rotate(-45)">1935</text><text transform="translate(776.5,598.6) rotate(-45)">1940</text><text transform="translate(792,598.6) rotate(-45)">1945</text><text transform="translate(807.4,598.6) rotate(-45)">1950</text><text transform="translate(822.8,598.6) rotate(-45)">1955</text><text transform="translate(838.2,598.6) rotate(-45)">1960</text><text transform="translate(853.7,598.6) rotate(-45)">1965</text><text transform="translate(869.1,598.6) rotate(-45)">1970</text><text transform="translate(884.5,598.6) rotate(-45)">1975</text><text transform="translate(900,598.6) rotate(-45)">1980</text><text transform="translate(915.4,598.6) rotate(-45)">1985</text><text transform="translate(930.8,598.6) rotate(-45)">1990</text>
</g>
<text class="ti" x="788.3" y="631.3" textLength="70" lengthAdjust="spacingAndGlyphs">Birth cohort</text>
</g>
</svg>
</body></html>
